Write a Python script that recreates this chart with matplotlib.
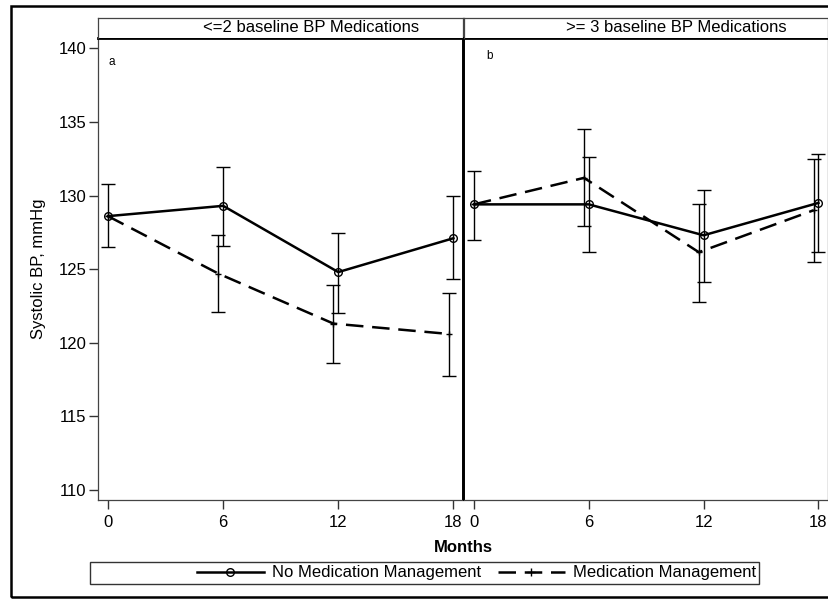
import numpy as np
import matplotlib
matplotlib.use("Agg")
import matplotlib.pyplot as plt
from matplotlib.lines import Line2D
from matplotlib.patches import Rectangle

plt.rcParams['font.family'] = ['Liberation Sans', 'DejaVu Sans']

months = [0, 6, 12, 18]
panels = ["<=2 baseline BP Medications", ">= 3 baseline BP Medications"]
panel_tags = ["a", "b"]
DODGE = -0.25  # med-management points are drawn slightly left of the visit month

# panel a (<=2 meds)
a_nomed     = [128.6, 129.3, 124.8, 127.1]
a_nomed_lo  = [126.5, 126.6, 122.05, 124.3]
a_nomed_hi  = [130.75, 131.95, 127.45, 129.95]
a_med       = [128.6, 124.7, 121.3, 120.6]
a_med_lo    = [126.5, 122.1, 118.65, 117.75]
a_med_hi    = [130.75, 127.3, 123.9, 123.4]

# panel b (>=3 meds)
b_nomed     = [129.4, 129.4, 127.3, 129.5]
b_nomed_lo  = [127.0, 126.15, 124.1, 126.15]
b_nomed_hi  = [131.7, 132.65, 130.4, 132.85]
b_med       = [129.4, 131.2, 126.15, 129.0]
b_med_lo    = [127.0, 127.9, 122.8, 125.5]
b_med_hi    = [131.7, 134.5, 129.4, 132.45]

series = [
    (a_nomed, a_nomed_lo, a_nomed_hi, a_med, a_med_lo, a_med_hi),
    (b_nomed, b_nomed_lo, b_nomed_hi, b_med, b_med_lo, b_med_hi),
]

W, H = 829, 599
fig = plt.figure(figsize=(W / 100, H / 100), dpi=100)

def fx(px): return px / W
def fy(py): return 1 - py / H

DASH = (0, (7, 3.5))
FS = 12
lefts = [98, 464]
rights = [463, 828]
top_px, bot_px, strip_top = 38, 500, 17.5

axes = []
for i in range(2):
    ax = fig.add_axes([fx(lefts[i]), fy(bot_px), fx(rights[i] - lefts[i]), (bot_px - top_px) / H])
    nm, nm_lo, nm_hi, md, md_lo, md_hi = (np.array(v) for v in series[i])
    mx = np.array(months, float) + np.array([0, DODGE, DODGE, DODGE])

    # med management (dashed) - baseline point shares the no-med bar
    ax.errorbar(mx[1:], md[1:], yerr=[md[1:] - md_lo[1:], md_hi[1:] - md[1:]],
                fmt='none', ecolor='black', elinewidth=1.0, capsize=4.7, capthick=1.0)
    ax.plot(mx, md, color='black', lw=1.8, ls=DASH, marker='+', ms=5, mew=1.0)
    ax.errorbar(months, nm, yerr=[nm - nm_lo, nm_hi - nm],
                fmt='none', ecolor='black', elinewidth=1.0, capsize=4.7, capthick=1.0)
    ax.plot(months, nm, color='black', lw=1.8, marker='o', ms=5.5,
            mfc='none', mec='black', mew=1.0)

    ax.set_xlim(-0.52, 18.5)
    ax.set_ylim(109.32, 140.7)
    ax.set_xticks(months)
    ax.tick_params(axis='x', direction='out', length=6.5, width=1, colors='#333333',
                   labelsize=FS, labelcolor='black', pad=4)
    for s in ax.spines.values():
        s.set_color('#444444'); s.set_linewidth(0.9)
    ax.spines['top'].set_color('black'); ax.spines['top'].set_linewidth(2)
    if i == 0:
        ax.set_yticks([110, 115, 120, 125, 130, 135, 140])
        ax.tick_params(axis='y', direction='out', length=6.5, width=1, colors='#333333',
                       labelsize=FS, labelcolor='black', pad=2)
        ax.set_ylabel("Systolic BP, mmHg", fontsize=FS, labelpad=9)
        ax.spines['right'].set_color('black'); ax.spines['right'].set_linewidth(1.4)
    else:
        ax.set_yticks([])
        ax.spines['left'].set_color('black'); ax.spines['left'].set_linewidth(1.4)
    ax.text(0.028 if i == 0 else 0.06, 0.948 if i == 0 else 0.962, panel_tags[i],
            transform=ax.transAxes, fontsize=8.5, ha='left', va='center')

    # strip header
    st = fig.add_axes([fx(lefts[i]), fy(top_px), fx(rights[i] - lefts[i]), (top_px - strip_top) / H])
    st.set_xticks([]); st.set_yticks([])
    for s in st.spines.values():
        s.set_color('#444444'); s.set_linewidth(0.9)
    st.spines['bottom'].set_visible(False)
    st.text(0.583, 0.5, panels[i], transform=st.transAxes, fontsize=FS,
            ha='center', va='center')
    axes.append(ax)

fig.text(fx(463), fy(548), "Months", fontsize=FS, fontweight='bold', ha='center', va='center')

# legend box (content sits at its right end)
fig.patches.append(Rectangle((fx(90), fy(584)), fx(759 - 90), (584 - 562) / H,
                             transform=fig.transFigure, fill=False, ec='#333333', lw=1.0))
handles = [
    Line2D([0], [0], color='black', lw=1.8, marker='o', ms=5.5, mfc='none', mew=1.0),
    Line2D([0], [0], color='black', lw=1.8, ls=DASH, marker='+', ms=6, mew=1.0),
]
fig.legend(handles, ["No Medication Management", "Medication Management"],
           loc='center right', bbox_to_anchor=(fx(756), fy(573)), ncol=2, frameon=False,
           fontsize=FS, handlelength=4.0, handletextpad=0.5, columnspacing=1.0,
           borderpad=0, borderaxespad=0)

# outer frame
fig.patches.append(Rectangle((fx(11), fy(597)), 1.02 - fx(11), (597 - 6) / H,
                             transform=fig.transFigure, fill=False, ec='black', lw=1.8))

fig.savefig("out.png", dpi=100)
